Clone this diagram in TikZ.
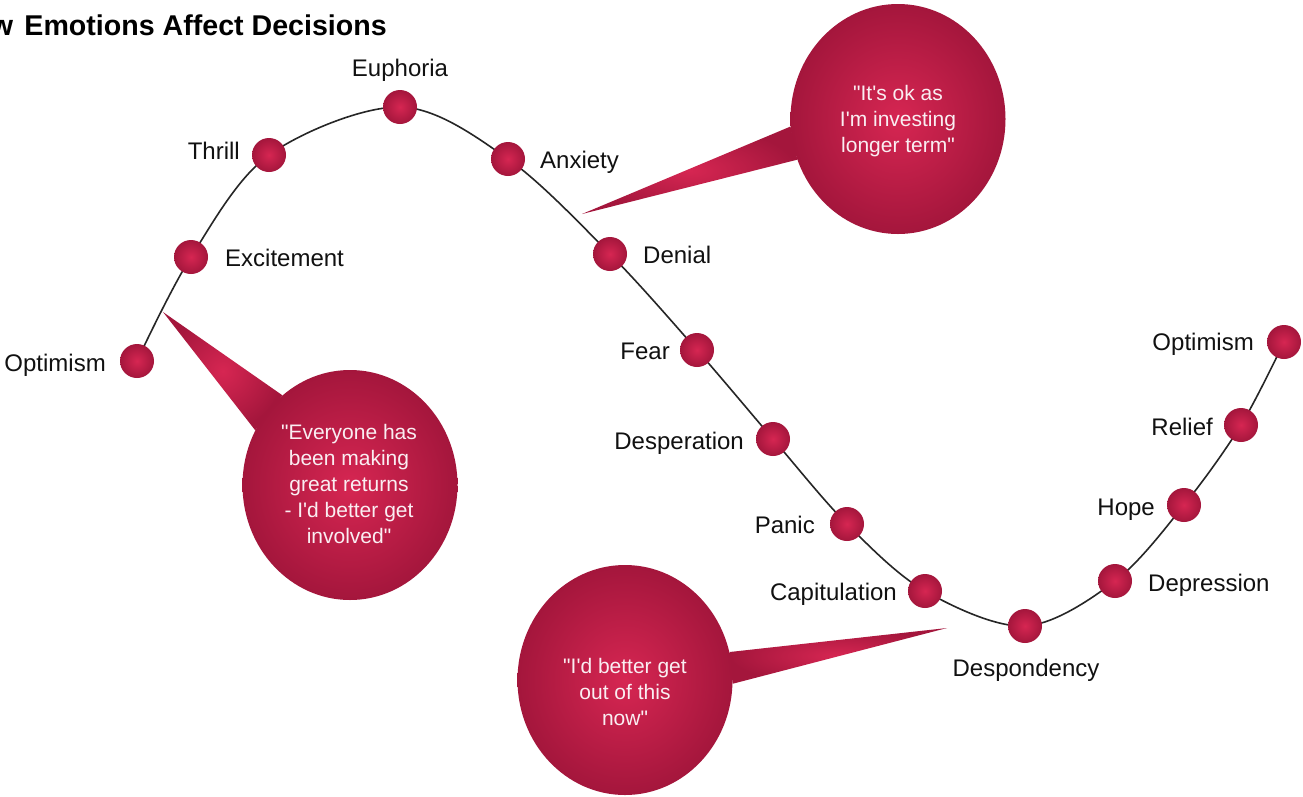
\documentclass[tikz,border=0pt]{standalone}
\usepackage{fontspec}
\setmainfont{Liberation Sans}[Ligatures=TeXOff]
\usetikzlibrary{shapes.geometric,backgrounds}
\definecolor{berryLight}{RGB}{214,38,82}
\definecolor{berryDark}{RGB}{164,22,60}
\definecolor{inkText}{RGB}{17,17,17}
\definecolor{quoteText}{RGB}{250,238,242}
\begin{document}
\begin{tikzpicture}[x=1pt,y=-1pt,
  stage/.style={circle, minimum size=34pt, inner sep=0pt, shading=radial,
    inner color=berryLight, outer color=berryDark},
  stagelabel/.style={font=\fontsize{24}{28}\selectfont, text=inkText, inner sep=0pt},
  bubble/.style={ellipse, minimum width=215pt, minimum height=230pt, inner sep=0pt,
    shading=radial, inner color=berryLight, outer color=berryDark},
  tail/.style={shading=radial, inner color=berryLight, outer color=berryDark},
  quote/.style={font=\fontsize{21}{26}\selectfont, text=quoteText, align=center, inner sep=0pt},
  curve/.style={line width=1.6pt, draw=black!85}
]
\useasboundingbox (0,0) rectangle (1303,796);
\clip (0,0) rectangle (1303,796);

% title, running off the left edge
\node[anchor=base east, font=\bfseries\fontsize{28.6}{32}\selectfont, inner sep=0pt, text=black]
  (title) at (387,35) {How\hspace{0.4em}Emotions Affect Decisions};

% stages of the cycle
\node[stage] (o1)   at (137,361) {};
\node[stage] (exc)  at (191,257) {};
\node[stage] (thr)  at (269,155) {};
\node[stage] (eup)  at (400,107) {};
\node[stage] (anx)  at (508,159) {};
\node[stage] (den)  at (610,254) {};
\node[stage] (fear) at (697,350) {};
\node[stage] (desp) at (773,439) {};
\node[stage] (pan)  at (847,524) {};
\node[stage] (cap)  at (925,591) {};
\node[stage] (dsp)  at (1025,626) {};
\node[stage] (dep)  at (1115,581) {};
\node[stage] (hope) at (1184,505) {};
\node[stage] (rel)  at (1241,425) {};
\node[stage] (o2)   at (1284,342) {};

% stage names
\node[stagelabel, anchor=base east] (lo1)   at (106,371)  {Optimism};
\node[stagelabel, anchor=base west] (lexc)  at (225,266)  {Excitement};
\node[stagelabel, anchor=base east] (lthr)  at (240,159)  {Thrill};
\node[stagelabel, anchor=base]      (leup)  at (400,76)   {Euphoria};
\node[stagelabel, anchor=base west] (lanx)  at (540,168)  {Anxiety};
\node[stagelabel, anchor=base west] (lden)  at (643,263)  {Denial};
\node[stagelabel, anchor=base east] (lfear) at (670,359)  {Fear};
\node[stagelabel, anchor=base east] (ldesp) at (744,449)  {Desperation};
\node[stagelabel, anchor=base east] (lpan)  at (815,533)  {Panic};
\node[stagelabel, anchor=base east] (lcap)  at (897,600)  {Capitulation};
\node[stagelabel, anchor=base]      (ldsp)  at (1026,676) {Despondency};
\node[stagelabel, anchor=base west] (ldep)  at (1148,591) {Depression};
\node[stagelabel, anchor=base east] (lhope) at (1155,515) {Hope};
\node[stagelabel, anchor=base east] (lrel)  at (1213,435) {Relief};
\node[stagelabel, anchor=base east] (lo2)   at (1254,350) {Optimism};

% speech bubbles
\node[bubble] (b1) at (350,485) {};
\node[bubble] (b2) at (898,119) {};
\node[bubble] (b3) at (625,680) {};
\coordinate (t1) at (163,312);
\coordinate (t2) at (582,214);
\coordinate (t3) at (947,628);

\node[quote] (q1) at (349,484) {"Everyone has\\been making\\great returns\\- I'd better get\\involved"};
\node[quote] (q2) at (898,121) {"It's ok as\\I'm investing\\longer term"};
\node[quote] (q3) at (625,692) {"I'd better get\\out of this\\now"};

\begin{pgfonlayer}{background}
  \fill[white] (0,0) rectangle (1303,796);
  \draw[curve] plot[smooth, tension=0.55] coordinates {(o1) (exc) (thr) (eup) (anx) (den)
    (fear) (desp) (pan) (cap) (dsp) (dep) (hope) (rel) (o2)};
  \shade[tail] (t1) -- (b1.127) -- (b1.150) -- cycle;
  \shade[tail] (t2) -- (b2.184) -- (b2.202) -- cycle;
  \shade[tail] (t3) -- (b3.15) -- (b3.-2) -- cycle;
\end{pgfonlayer}
\end{tikzpicture}
\end{document}
